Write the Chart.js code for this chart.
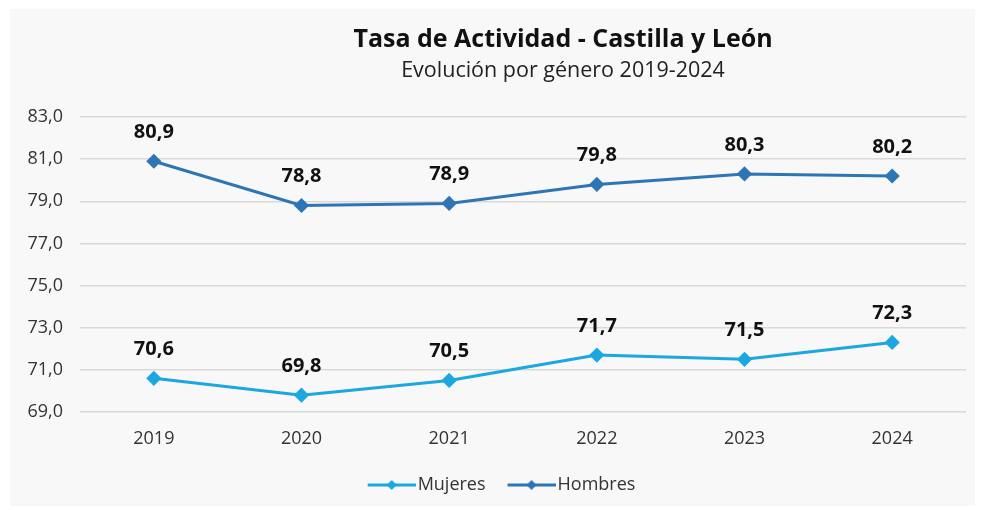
<!DOCTYPE html>
<html>
<head>
<meta charset="utf-8">
<script src="https://cdn.jsdelivr.net/npm/chart.js@4"></script>
<style>
  html, body { margin: 0; padding: 0; background: #fff; }
  #wrap { width: 982px; height: 510px; position: relative; }
</style>
</head>
<body>
<div id="wrap"><canvas id="chartId" width="982" height="510"></canvas></div>
<script>
const years = ["2019", "2020", "2021", "2022", "2023", "2024"];
const mujeres = [70.6, 69.8, 70.5, 71.7, 71.5, 72.3];
const hombres = [80.9, 78.8, 78.9, 79.8, 80.3, 80.2];
const yTicks = [69, 71, 73, 75, 77, 79, 81, 83];

const FONT = "'Open Sans', sans-serif";
const fmt = (v) => v.toFixed(1).replace(".", ",");

// line+diamond for the legend; blank on the left gives the gap between items
function legendIcon(color) {
  const c = document.createElement("canvas");
  c.width = 67;
  c.height = 14;
  const g = c.getContext("2d");
  g.strokeStyle = color;
  g.lineWidth = 3;
  g.beginPath();
  g.moveTo(19, 7);
  g.lineTo(67, 7);
  g.stroke();
  g.fillStyle = color;
  g.beginPath();
  g.moveTo(43, 2);
  g.lineTo(48, 7);
  g.lineTo(43, 12);
  g.lineTo(38, 7);
  g.closePath();
  g.fill();
  return c;
}

const bgAndTitle = {
  id: "bgAndTitle",
  beforeDraw(chart) {
    const ctx = chart.ctx;
    ctx.save();
    ctx.fillStyle = "#f8f8f8";
    ctx.fillRect(10, 9, 965, 497);
    ctx.restore();
  },
  afterDraw(chart) {
    const ctx = chart.ctx;
    ctx.save();
    ctx.textAlign = "center";
    ctx.textBaseline = "middle";
    ctx.fillStyle = "#111";
    ctx.font = "bold 25px " + FONT;
    ctx.fillText("Tasa de Actividad - Castilla y León", 563, 40);
    ctx.fillStyle = "#222";
    ctx.font = "21.5px " + FONT;
    ctx.fillText("Evolución por género 2019-2024", 563, 71);
    ctx.restore();
  },
};

const valueLabels = {
  id: "valueLabels",
  afterDatasetsDraw(chart) {
    const ctx = chart.ctx;
    ctx.save();
    ctx.textAlign = "center";
    ctx.textBaseline = "middle";
    ctx.fillStyle = "#111";
    ctx.font = "bold 20px " + FONT;
    chart.data.datasets.forEach((ds, i) => {
      chart.getDatasetMeta(i).data.forEach((pt, j) => {
        ctx.fillText(fmt(ds.data[j]), pt.x, pt.y - 29);
      });
    });
    ctx.restore();
  },
};

const ctx = document.getElementById("chartId");
new Chart(ctx, {
  type: "line",
  data: {
    labels: years,
    datasets: [
      {
        label: "Mujeres",
        data: mujeres,
        borderColor: "#1ba7e0",
        backgroundColor: "#1ba7e0",
        borderWidth: 3,
        pointStyle: "rectRot",
        pointRadius: 5.5,
        pointHoverRadius: 5.5,
        tension: 0,
      },
      {
        label: "Hombres",
        data: hombres,
        borderColor: "#2e75b6",
        backgroundColor: "#2e75b6",
        borderWidth: 3,
        pointStyle: "rectRot",
        pointRadius: 5.5,
        pointHoverRadius: 5.5,
        tension: 0,
      },
    ],
  },
  options: {
    responsive: false,
    animation: false,
    layout: { padding: { left: 25, right: 16, top: 117, bottom: 6 } },
    scales: {
      x: {
        offset: true,
        grid: { display: false },
        border: { display: false },
        afterFit: (scale) => {
          scale.height = 54;
        },
        ticks: { color: "#333", font: { family: FONT, size: 18 }, padding: 8 },
      },
      y: {
        min: 69,
        max: 83,
        afterBuildTicks: (scale) => {
          scale.ticks = yTicks.map((v) => ({ value: v }));
        },
        afterFit: (scale) => {
          scale.width = 55;
        },
        grid: { color: "#d9d9d9", lineWidth: 1.5, drawTicks: false },
        border: { display: false },
        ticks: {
          color: "#333",
          font: { family: FONT, size: 18 },
          padding: 17,
          callback: (v) => fmt(v),
        },
      },
    },
    plugins: {
      title: { display: false },
      tooltip: { enabled: false },
      legend: {
        position: "bottom",
        labels: {
          color: "#333",
          font: { family: FONT, size: 18 },
          usePointStyle: true,
          pointStyleWidth: 53,
          padding: 10,
          generateLabels: (chart) =>
            chart.data.datasets.map((ds, i) => ({
              text: ds.label,
              pointStyle: legendIcon(ds.borderColor),
              fillStyle: ds.borderColor,
              strokeStyle: ds.borderColor,
              lineWidth: 0,
              datasetIndex: i,
              fontColor: "#333",
            })),
        },
      },
    },
  },
  plugins: [bgAndTitle, valueLabels],
});
</script>
</body>
</html>
